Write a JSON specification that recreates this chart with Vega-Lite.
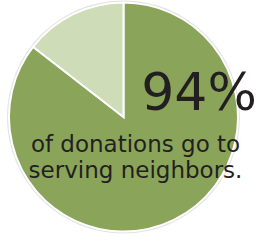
{
  "$schema": "https://vega.github.io/schema/vega-lite/v6.json",
  "width": 247,
  "height": 234,
  "autosize": "none",
  "padding": {"left": 0, "top": 0, "right": 12, "bottom": 7},
  "background": "white",
  "view": {"stroke": null},
  "layer": [
    {
      "data": {"values": [{"part": "ring", "value": 100}]},
      "mark": {"type": "arc", "outerRadius": 116.5, "color": "#e2e2e2"},
      "encoding": {"theta": {"field": "value", "type": "quantitative"}}
    },
    {
      "data": {"values": [
        {"category": "Serving neighbors", "value": 85.5},
        {"category": "Other", "value": 14.5}
      ]},
      "mark": {"type": "arc", "outerRadius": 114.5, "stroke": "white", "strokeWidth": 2},
      "encoding": {
        "theta": {"field": "value", "type": "quantitative", "stack": true},
        "order": {"field": "value", "sort": "descending"},
        "color": {
          "field": "category",
          "type": "nominal",
          "scale": {"domain": ["Serving neighbors", "Other"], "range": ["#8aa55a", "#cfdcb8"]},
          "legend": null
        }
      }
    },
    {
      "data": {"values": [{"label": "94%"}]},
      "mark": {"type": "text", "font": "DejaVu Sans", "fontSize": 52, "color": "#231f20", "align": "center", "baseline": "alphabetic", "dx": 75.5, "dy": -7},
      "encoding": {"text": {"field": "label", "type": "nominal"}}
    },
    {
      "data": {"values": [{"label": ["of donations go to", "serving neighbors."]}]},
      "mark": {"type": "text", "font": "DejaVu Sans", "fontSize": 23, "lineHeight": 26, "color": "#231f20", "align": "center", "baseline": "alphabetic", "dx": 12, "dy": 35},
      "encoding": {"text": {"field": "label"}}
    }
  ]
}
